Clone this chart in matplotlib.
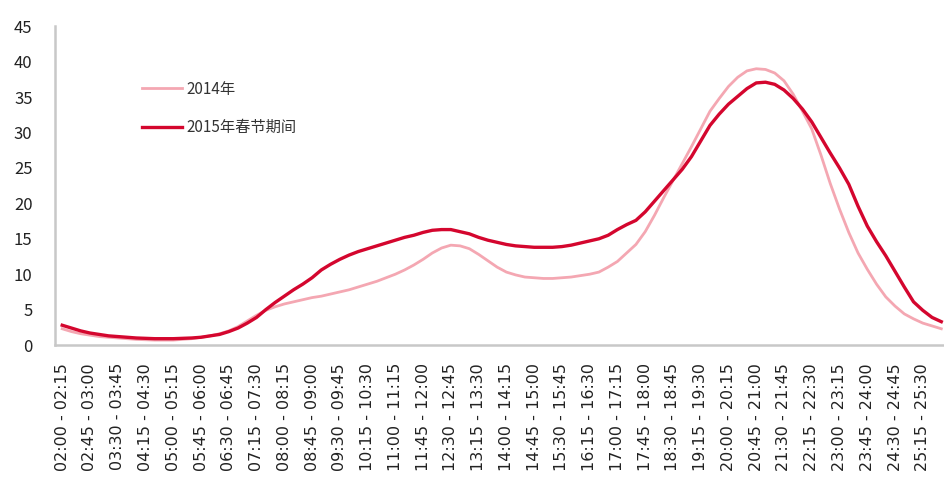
import matplotlib
matplotlib.use("Agg")
import matplotlib.pyplot as plt

plt.rcParams["font.family"] = ["Noto Sans CJK SC", "DejaVu Sans"]

# 15-minute slots from 02:00 to 26:00
slots = []
for k in range(96):
    start = 120 + 15 * k
    end = start + 15
    slots.append(f"{start // 60:02d}:{start % 60:02d} - {end // 60:02d}:{end % 60:02d}")

series_2014 = [
    2.3, 1.9, 1.6, 1.4, 1.2, 1.1, 1.0, 0.9, 0.8, 0.75,
    0.7, 0.7, 0.7, 0.8, 0.9, 1.1, 1.3, 1.6, 2.0, 2.6,
    3.4, 4.2, 4.9, 5.4, 5.8, 6.1, 6.4, 6.7, 6.9, 7.2,
    7.5, 7.8, 8.2, 8.6, 9.0, 9.5, 10.0, 10.6, 11.3, 12.1,
    13.0, 13.7, 14.1, 14.0, 13.6, 12.8, 11.9, 11.0, 10.3, 9.9,
    9.6, 9.5, 9.4, 9.4, 9.5, 9.6, 9.8, 10.0, 10.3, 11.0,
    11.8, 13.0, 14.2, 16.0, 18.3, 20.8, 23.2, 25.6, 28.0, 30.5,
    33.0, 34.8, 36.5, 37.8, 38.7, 39.0, 38.9, 38.4, 37.3, 35.4,
    33.0, 30.5, 26.8, 22.8, 19.2, 15.9, 13.0, 10.7, 8.6, 6.8,
    5.5, 4.4, 3.7, 3.1, 2.7, 2.3,
]

series_2015 = [
    2.8, 2.4, 2.0, 1.7, 1.5, 1.3, 1.2, 1.1, 1.0, 0.95,
    0.9, 0.9, 0.9, 0.95, 1.0, 1.1, 1.3, 1.5, 1.9, 2.4,
    3.1, 3.9, 5.0, 6.0, 6.9, 7.8, 8.6, 9.5, 10.6, 11.4,
    12.1, 12.7, 13.2, 13.6, 14.0, 14.4, 14.8, 15.2, 15.5, 15.9,
    16.2, 16.3, 16.3, 16.0, 15.7, 15.2, 14.8, 14.5, 14.2, 14.0,
    13.9, 13.8, 13.8, 13.8, 13.9, 14.1, 14.4, 14.7, 15.0, 15.5,
    16.3, 17.0, 17.6, 18.8, 20.3, 21.8, 23.3, 24.8, 26.6, 28.8,
    31.0, 32.6, 34.0, 35.1, 36.2, 37.0, 37.1, 36.8, 36.0, 34.8,
    33.3, 31.5, 29.3, 27.1, 25.0, 22.7, 19.6, 16.8, 14.6, 12.6,
    10.4, 8.2, 6.1, 4.9, 3.9, 3.3,
]

labels = ["2014年", "2015年春节期间"]

fig = plt.figure(figsize=(9.45, 4.86), dpi=100)
ax = fig.add_axes([0.058, 0.29, 0.942, 0.656])

x = list(range(len(slots)))
ax.plot(x, series_2014, color="#F4A7B2", linewidth=2.0, label=labels[0])
ax.plot(x, series_2015, color="#D4062E", linewidth=2.4, label=labels[1])

ax.set_xlim(-0.8, 95.4)
ax.set_ylim(0, 45)
ax.set_yticks(range(0, 50, 5))
ax.set_xticks(x[::3])
ax.set_xticklabels(slots[::3], rotation=90, fontsize=11.5, family="DejaVu Sans",
                   color="#222222")
ax.tick_params(axis="y", labelsize=12, colors="#222222", length=0, pad=16)
ax.tick_params(axis="x", length=0, pad=13)

for side in ["top", "right"]:
    ax.spines[side].set_visible(False)
for side in ["left", "bottom"]:
    ax.spines[side].set_color("#C8C8C8")
    ax.spines[side].set_linewidth(1.8)

ax.legend(loc="upper left", bbox_to_anchor=(0.142, 0.85), bbox_transform=fig.transFigure,
          frameon=False, fontsize=11, handlelength=2.6, handletextpad=0.3,
          labelspacing=1.4, borderpad=0, labelcolor="#333333")

fig.savefig("out.png", dpi=100)
